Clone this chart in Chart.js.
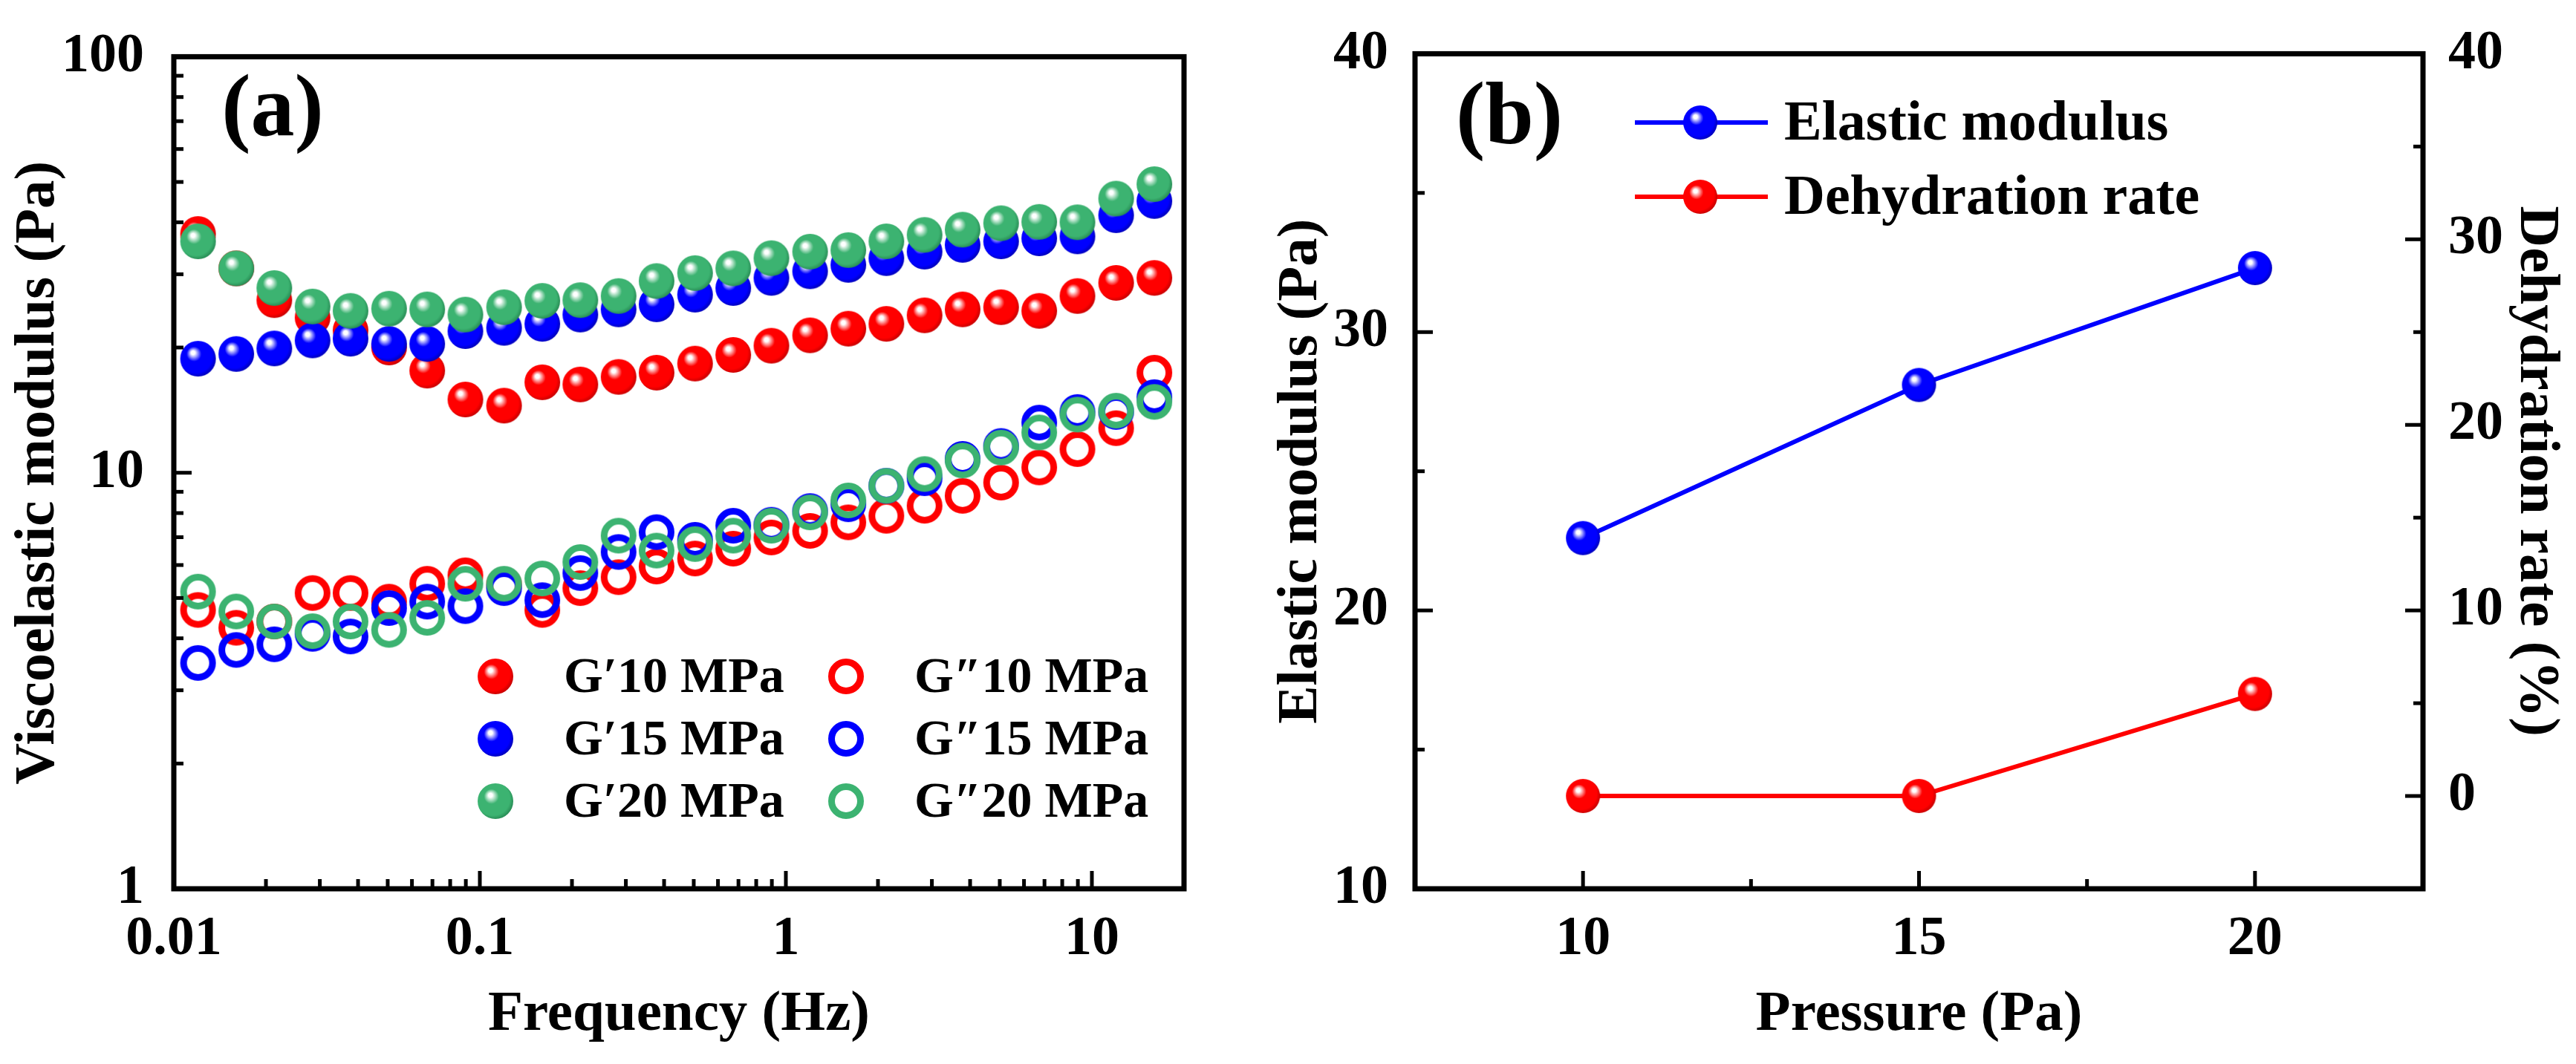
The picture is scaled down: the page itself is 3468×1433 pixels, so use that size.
<!DOCTYPE html>
<html>
<head>
<meta charset="utf-8">
<script src="https://cdn.jsdelivr.net/npm/chart.js@4.4.1/dist/chart.umd.min.js"></script>
<style>
  html, body { margin: 0; padding: 0; background: #fff; }
  #wrap { position: relative; width: 3468px; height: 1433px; }
  canvas { position: absolute; top: 0; }
  #chartA { left: 0; }
  #chartB { left: 1700px; }
</style>
</head>
<body>
<div id="wrap">
  <canvas id="chartA" width="1700" height="1433"></canvas>
  <canvas id="chartB" width="1768" height="1433"></canvas>
</div>
<script>
// ---- panel (a) data ----
const frequency = [0.012, 0.016, 0.0213, 0.0284, 0.0378, 0.0505, 0.0673, 0.0897, 0.12, 0.16, 0.213, 0.284, 0.378,
                   0.505, 0.673, 0.897, 1.2, 1.6, 2.13, 2.84, 3.78, 5.05, 6.73, 8.97, 12, 16];
const gp10  = [37.5, 31, 26, 23.6, 22, 20, 17.6, 15, 14.5, 16.5, 16.3, 17, 17.4, 18.3, 19.2, 20.2, 21.4, 22.2, 22.8, 23.9, 24.7, 25, 24.5, 26.6, 28.6, 29.4];
const gp15  = [18.8, 19.3, 19.9, 20.8, 21, 20.4, 20.4, 21.9, 22.3, 22.8, 24, 24.7, 25.4, 26.8, 27.8, 29.4, 30.5, 31.6, 32.8, 34, 35.3, 36, 36.6, 37, 41.6, 45];
const gp20  = [36, 31, 27.8, 25.1, 24.5, 24.8, 24.7, 24, 25, 25.9, 26, 26.6, 28.9, 30.2, 31, 32.8, 34, 34.3, 36, 37.3, 38.4, 39.8, 40.1, 40, 45.6, 49.4];
const gpp10 = [4.68, 4.24, 4.39, 5.14, 5.14, 4.9, 5.41, 5.67, 5.38, 4.68, 5.28, 5.61, 5.95, 6.22, 6.57, 6.99, 7.25, 7.6, 7.88, 8.33, 8.8, 9.47, 10.3, 11.4, 12.8, 17.4];
const gpp15 = [3.49, 3.75, 3.87, 4.1, 4.04, 4.73, 4.9, 4.78, 5.28, 4.94, 5.74, 6.45, 7.2, 6.9, 7.46, 7.5, 8.09, 8.4, 9.3, 9.7, 10.8, 11.6, 13.2, 14, 14, 15.2];
const gpp20 = [5.18, 4.64, 4.39, 4.16, 4.39, 4.19, 4.48, 5.41, 5.41, 5.57, 6.1, 7.06, 6.5, 6.74, 7.06, 7.46, 8.03, 8.58, 9.3, 9.93, 10.7, 11.5, 12.5, 13.8, 14.1, 14.8];
const xTicksA = [0.01, 0.1, 1, 10];
const yTicksA = [1, 10, 100];

// ---- panel (b) data ----
const pressure = [10, 15, 20];
const elasticModulus = [22.6, 28.1, 32.3];
const dehydrationRate = [0, 0, 5.5];
const xTicksB = [10, 15, 20];
const yTicksB = [10, 20, 30, 40];
const y1TicksB = [0, 10, 20, 30, 40];

const RED = '#ff0000', BLUE = '#0000ff', GREEN = '#3cb371';
const FONT = "'Liberation Serif', 'Times New Roman', serif";

Chart.defaults.font.family = FONT;
Chart.defaults.font.weight = 'bold';
Chart.defaults.font.size = 74;
Chart.defaults.color = '#000';

// shaded ball marker
function sphere(color, edge, r) {
  const c = document.createElement('canvas');
  c.width = c.height = 2 * r + 2;
  const g = c.getContext('2d');
  const cx = r + 1, cy = r + 1;
  const grad = g.createRadialGradient(cx - 0.3 * r, cy - 0.36 * r, 0, cx - 0.1 * r, cy - 0.1 * r, r * 1.1);
  grad.addColorStop(0, '#ffffff');
  grad.addColorStop(0.1, '#ffffff');
  grad.addColorStop(0.38, color);
  grad.addColorStop(0.85, color);
  grad.addColorStop(1, edge);
  g.fillStyle = grad;
  g.beginPath();
  g.arc(cx, cy, r, 0, Math.PI * 2);
  g.fill();
  return c;
}

function ring(color, r, w) {
  const c = document.createElement('canvas');
  c.width = c.height = 2 * r + 2;
  const g = c.getContext('2d');
  g.strokeStyle = color;
  g.lineWidth = w;
  g.beginPath();
  g.arc(r + 1, r + 1, r - w / 2, 0, Math.PI * 2);
  g.stroke();
  return c;
}

function logMinors(min, max) {
  const out = [];
  for (let d = Math.floor(Math.log10(min)); d <= Math.ceil(Math.log10(max)); d++) {
    for (let k = 2; k <= 9; k++) {
      const v = k * Math.pow(10, d);
      if (v > min && v <= max) out.push(v);
    }
  }
  return out;
}

function pts(xs, ys) {
  return xs.map((x, i) => ({ x: x, y: ys[i] }));
}

// frame, inward ticks, panel label and legend
const decor = {
  id: 'decor',
  afterDatasetsDraw(chart, args, opts) {
    const ctx = chart.ctx;
    const a = chart.chartArea;
    ctx.save();
    ctx.strokeStyle = '#000';
    ctx.lineCap = 'butt';
    ctx.lineWidth = 5;
    (opts.ticks || []).forEach(t => {
      const s = chart.scales[t.axis];
      const draw = (v, len) => {
        const p = s.getPixelForValue(v);
        ctx.beginPath();
        if (t.side === 'bottom') { ctx.moveTo(p, a.bottom); ctx.lineTo(p, a.bottom - len); }
        if (t.side === 'left') { ctx.moveTo(a.left, p); ctx.lineTo(a.left + len, p); }
        if (t.side === 'right') { ctx.moveTo(a.right, p); ctx.lineTo(a.right - len, p); }
        ctx.stroke();
      };
      t.major.forEach(v => draw(v, 24));
      t.minor.forEach(v => draw(v, 13));
    });
    ctx.lineWidth = 7;
    ctx.strokeRect(a.left, a.top, a.right - a.left, a.bottom - a.top);

    ctx.fillStyle = '#000';
    ctx.textBaseline = 'middle';
    if (opts.label) {
      ctx.font = 'bold 118px ' + FONT;
      ctx.textAlign = 'center';
      ctx.fillText(opts.label.text, opts.label.x, opts.label.y);
    }
    const lg = opts.legend;
    if (lg) {
      ctx.font = 'bold ' + lg.size + 'px ' + FONT;
      ctx.textAlign = 'left';
      lg.items.forEach(it => {
        if (it.line) {
          ctx.strokeStyle = it.line;
          ctx.lineWidth = 6;
          ctx.beginPath();
          ctx.moveTo(it.x1, it.y);
          ctx.lineTo(it.x2, it.y);
          ctx.stroke();
        }
        ctx.drawImage(it.img, it.mx - it.img.width / 2, it.y - it.img.height / 2);
        ctx.fillText(it.text, it.tx, it.y + 3);
      });
    }
    ctx.restore();
  }
};

// ---- markers ----
const ballR = sphere(RED, '#cc0000', 24), ballB = sphere(BLUE, '#0000c0', 24), ballG = sphere(GREEN, '#2a9058', 24);
const ringR = ring(RED, 24, 9), ringB = ring(BLUE, 24, 9), ringG = ring(GREEN, 24, 9);
const ball2B = sphere(BLUE, '#0000c0', 23), ball2R = sphere(RED, '#cc0000', 23);

function scatterSet(label, ys, img, order) {
  return { label: label, data: pts(frequency, ys), pointStyle: img, pointRadius: 24, showLine: false, order: order };
}

new Chart(document.getElementById('chartA'), {
  type: 'scatter',
  data: {
    datasets: [
      scatterSet('G′10 MPa', gp10, ballR, 5),
      scatterSet('G′15 MPa', gp15, ballB, 4),
      scatterSet('G′20 MPa', gp20, ballG, 3),
      scatterSet('G″10 MPa', gpp10, ringR, 2),
      scatterSet('G″15 MPa', gpp15, ringB, 1),
      scatterSet('G″20 MPa', gpp20, ringG, 0)
    ]
  },
  options: {
    responsive: false,
    animation: false,
    devicePixelRatio: 1,
    layout: { padding: { top: 48, right: 106, left: 0, bottom: 0 } },
    plugins: {
      legend: { display: false },
      tooltip: { enabled: false },
      decor: {
        ticks: [
          { axis: 'x', side: 'bottom', major: xTicksA, minor: logMinors(0.01, 20) },
          { axis: 'y', side: 'left', major: yTicksA, minor: logMinors(1, 100) }
        ],
        label: { text: '(a)', x: 367, y: 152 },
        legend: {
          size: 68,
          items: [
            { img: ballR, mx: 667, tx: 759, y: 911, text: 'G′10 MPa' },
            { img: ballB, mx: 667, tx: 759, y: 995, text: 'G′15 MPa' },
            { img: ballG, mx: 667, tx: 759, y: 1079, text: 'G′20 MPa' },
            { img: ringR, mx: 1139, tx: 1231, y: 911, text: 'G″10 MPa' },
            { img: ringB, mx: 1139, tx: 1231, y: 995, text: 'G″15 MPa' },
            { img: ringG, mx: 1139, tx: 1231, y: 1079, text: 'G″20 MPa' }
          ]
        }
      }
    },
    scales: {
      x: {
        type: 'logarithmic', min: 0.01, max: 20,
        grid: { display: false }, border: { display: false },
        afterBuildTicks: s => { s.ticks = xTicksA.map(v => ({ value: v })); },
        afterFit: s => { s.height = 236; },
        ticks: { autoSkip: false, maxRotation: 0, padding: 16, callback: v => String(v) },
        title: { display: true, text: 'Frequency (Hz)', font: { size: 77 }, padding: { top: 0, bottom: 20 } }
      },
      y: {
        type: 'logarithmic', min: 1, max: 100,
        grid: { display: false }, border: { display: false },
        afterBuildTicks: s => { s.ticks = yTicksA.map(v => ({ value: v })); },
        afterFit: s => { s.width = 234; },
        ticks: { autoSkip: false, padding: 32, callback: v => String(v) },
        title: { display: true, text: 'Viscoelastic modulus (Pa)', font: { size: 77 }, padding: { top: 6, bottom: 0 } }
      }
    }
  },
  plugins: [decor]
});

new Chart(document.getElementById('chartB'), {
  type: 'line',
  data: {
    datasets: [
      { label: 'Elastic modulus', data: pts(pressure, elasticModulus), yAxisID: 'y', borderColor: BLUE, borderWidth: 6,
        pointStyle: ball2B, pointRadius: 23, tension: 0 },
      { label: 'Dehydration rate', data: pts(pressure, dehydrationRate), yAxisID: 'y1', borderColor: RED, borderWidth: 6,
        pointStyle: ball2R, pointRadius: 23, tension: 0 }
    ]
  },
  options: {
    responsive: false,
    animation: false,
    devicePixelRatio: 1,
    layout: { padding: { top: 48, right: 0, left: 0, bottom: 0 } },
    plugins: {
      legend: { display: false },
      tooltip: { enabled: false },
      decor: {
        ticks: [
          { axis: 'x', side: 'bottom', major: xTicksB, minor: [12.5, 17.5] },
          { axis: 'y', side: 'left', major: yTicksB, minor: [15, 25, 35] },
          { axis: 'y1', side: 'right', major: y1TicksB, minor: [5, 15, 25, 35] }
        ],
        label: { text: '(b)', x: 332, y: 162 },
        legend: {
          size: 76,
          items: [
            { img: ball2B, line: BLUE, x1: 501, x2: 680, mx: 589, tx: 702, y: 165, text: 'Elastic modulus' },
            { img: ball2R, line: RED, x1: 501, x2: 680, mx: 589, tx: 702, y: 265, text: 'Dehydration rate' }
          ]
        }
      }
    },
    scales: {
      x: {
        type: 'linear', min: 7.5, max: 22.5,
        grid: { display: false }, border: { display: false },
        afterBuildTicks: s => { s.ticks = xTicksB.map(v => ({ value: v })); },
        afterFit: s => { s.height = 236; },
        ticks: { autoSkip: false, maxRotation: 0, padding: 16 },
        title: { display: true, text: 'Pressure (Pa)', font: { size: 77 }, padding: { top: 0, bottom: 20 } }
      },
      y: {
        type: 'linear', position: 'left', min: 10, max: 40,
        grid: { display: false }, border: { display: false },
        afterBuildTicks: s => { s.ticks = yTicksB.map(v => ({ value: v })); },
        afterFit: s => { s.width = 205; },
        ticks: { autoSkip: false, padding: 28 },
        title: { display: true, text: 'Elastic modulus (Pa)', font: { size: 77 }, padding: { top: 6, bottom: 0 } }
      },
      y1: {
        type: 'linear', position: 'right', min: -5, max: 40,
        grid: { display: false }, border: { display: false },
        afterBuildTicks: s => { s.ticks = y1TicksB.map(v => ({ value: v })); },
        afterFit: s => { s.width = 206; },
        ticks: { autoSkip: false, padding: 26 },
        title: { display: true, text: 'Dehydration rate (%)', font: { size: 77 }, padding: { top: 8, bottom: 0 } }
      }
    }
  },
  plugins: [decor]
});
</script>
</body>
</html>
